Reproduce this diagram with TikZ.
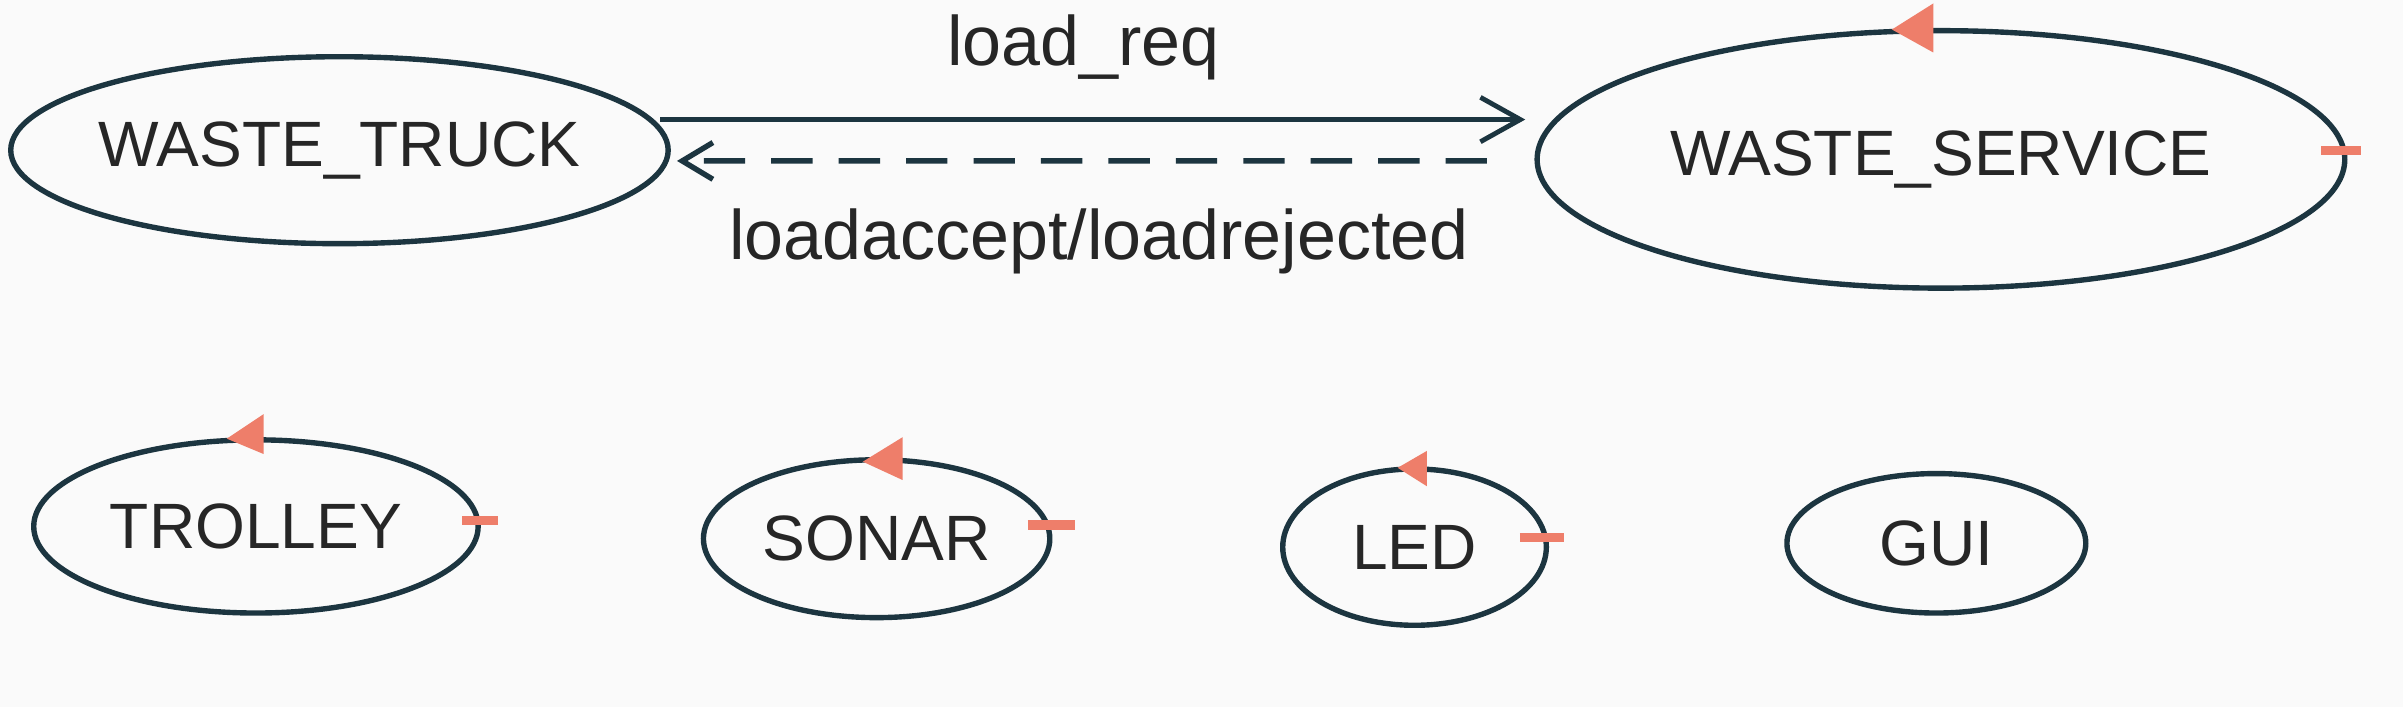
\documentclass[tikz,border=0pt]{standalone}
\usepackage{fontspec}
\setmainfont{Liberation Sans}
\usepackage{xcolor}
\usepackage{tikz}
\usetikzlibrary{arrows.meta, shapes.geometric}
\definecolor{bgwhite}{RGB}{250,250,250}
\definecolor{stateline}{RGB}{28,53,64}
\definecolor{loopred}{RGB}{238,126,106}
\definecolor{textgray}{RGB}{38,38,38}

\begin{document}
\begin{tikzpicture}[
    state/.style={draw=stateline, ellipse, line width=1pt, inner sep=0pt, text=textgray, font=\fontsize{11.9}{14}\selectfont},
    msg/.style={text=textgray, font=\fontsize{13}{15}\selectfont, inner sep=0pt},
    tipfill/.style={fill=loopred},
    tipbar/.style={draw=loopred, line width=0.6mm}
  ]
            \useasboundingbox (0,0) rectangle (15.68,4.61);
            \fill[bgwhite] (0,0) rectangle (15.68,4.61);

            % actors
            \node[state, minimum width=4.29cm, minimum height=1.22cm, inner xsep=-1mm] (truck) at (2.215,3.63) {WASTE\_TRUCK};
            \node[state, minimum width=5.27cm, minimum height=1.68cm] (service) at (12.665,3.57) {WASTE\_SERVICE};
            \node[state, minimum width=2.90cm, minimum height=1.13cm] (trolley) at (1.67,1.175) {TROLLEY};
            \node[state, minimum width=2.26cm, minimum height=1.03cm] (sonar) at (5.72,1.095) {SONAR};
            \node[state, minimum width=1.72cm, minimum height=1.02cm] (led) at (9.23,1.04) {LED};
            \node[state, minimum width=1.95cm, minimum height=0.91cm] (gui) at (12.635,1.065) {GUI};

            % request / reply
            \draw[stateline, line width=0.9pt, -{Straight Barb[length=2.6mm,width=2.9mm]}] ([shift={(-0.7mm,2mm)}]truck.east) -- ([shift={(-0.6mm,2.6mm)}]service.west);
            \draw[stateline, line width=1pt, dash pattern=on 2.7mm off 1.7mm, -{Straight Barb[length=2mm,width=2.4mm]}] ([shift={(-3.1mm,-0.1mm)}]service.west) -- ([shift={(0.4mm,-0.7mm)}]truck.east);

            \node[msg, anchor=base] (req) at (7.07,4.18) {load\_req};
            \node[msg, anchor=base] (reply) at (7.17,2.92) {loadaccept/loadrejected};

            % loop marks
            \fill[tipfill] ([shift={(-0.5mm,1.6mm)}]service.north) -- ([shift={(-0.5mm,-1.6mm)}]service.north) -- ([shift={(-3.2mm,-0.1mm)}]service.north) -- cycle;
            \fill[tipfill] ([shift={(0.5mm,1.5mm)}]trolley.north) -- ([shift={(0.5mm,-1.1mm)}]trolley.north) -- ([shift={(-1.9mm,-0.1mm)}]trolley.north) -- cycle;
            \fill[tipfill] ([shift={(1.7mm,1.3mm)}]sonar.north) -- ([shift={(1.7mm,-1.5mm)}]sonar.north) -- ([shift={(-0.9mm,-0.3mm)}]sonar.north) -- cycle;
            \fill[tipfill] ([shift={(0.8mm,1.0mm)}]led.north) -- ([shift={(0.8mm,-1.3mm)}]led.north) -- ([shift={(-1.1mm,-0.1mm)}]led.north) -- cycle;

            \draw[tipbar] ([shift={(-1.7mm,0.6mm)}]service.east) -- ([shift={(0.9mm,0.6mm)}]service.east);
            \draw[tipbar] ([shift={(-1.2mm,0.4mm)}]trolley.east) -- ([shift={(1.1mm,0.4mm)}]trolley.east);
            \draw[tipbar] ([shift={(-1.6mm,0.9mm)}]sonar.east) -- ([shift={(1.5mm,0.9mm)}]sonar.east);
            \draw[tipbar] ([shift={(-1.9mm,0.65mm)}]led.east) -- ([shift={(1.0mm,0.65mm)}]led.east);
\end{tikzpicture}
\end{document}
